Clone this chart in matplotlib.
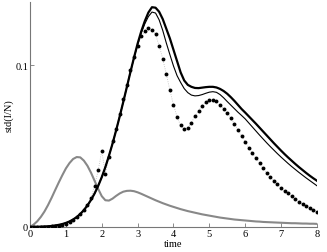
import numpy as np
import matplotlib
matplotlib.use("Agg")
import matplotlib.pyplot as plt

plt.rcParams['font.family'] = ['Liberation Serif', 'DejaVu Serif']

time = [round(0.1 * i, 1) for i in range(81)]

dots = [0, 0, 0, 0, 0.0001, 0.0002, 0.0003, 0.0005, 0.0008, 0.0012,
        0.002, 0.003, 0.0045, 0.006, 0.008, 0.0105, 0.0135, 0.018, 0.0255, 0.035,
        0.047, 0.033, 0.043, 0.053, 0.0605, 0.07, 0.079, 0.088, 0.097, 0.105,
        0.112, 0.118, 0.1208, 0.1228, 0.122, 0.119, 0.112, 0.104, 0.0945, 0.0845,
        0.0755, 0.068, 0.0627, 0.0605, 0.0612, 0.0645, 0.0685, 0.0718, 0.075, 0.0772,
        0.0783, 0.0785, 0.0776, 0.0752, 0.073, 0.0705, 0.0672, 0.0638, 0.06, 0.0563,
        0.0527, 0.049, 0.0455, 0.0426, 0.0396, 0.0365, 0.0336, 0.031, 0.0286, 0.0263,
        0.024, 0.0222, 0.0207, 0.0189, 0.0172, 0.0155, 0.0141, 0.0127, 0.0115, 0.0104,
        0.0094]

thick = [0, 0.0001, 0.0001, 0.0002, 0.0003, 0.0004, 0.0006, 0.0009, 0.0013, 0.0018,
         0.0025, 0.0034, 0.0046, 0.0061, 0.008, 0.0104, 0.0133, 0.0167, 0.0207, 0.0254,
         0.0308, 0.037, 0.044, 0.0515, 0.0597, 0.0683, 0.0773, 0.0865, 0.0958, 0.1048,
         0.1133, 0.1208, 0.1272, 0.1325, 0.1358, 0.1355, 0.133, 0.1285, 0.1225, 0.1165,
         0.1095, 0.1025, 0.0955, 0.0905, 0.0878, 0.0866, 0.0859, 0.0858, 0.0861, 0.0864,
         0.0866, 0.0866, 0.0862, 0.0853, 0.084, 0.0823, 0.0802, 0.0779, 0.0754, 0.0729,
         0.0707, 0.0684, 0.0661, 0.0638, 0.0614, 0.059, 0.0566, 0.0542, 0.0518, 0.0495,
         0.0472, 0.045, 0.0429, 0.0409, 0.0389, 0.037, 0.0352, 0.0334, 0.0317, 0.0301,
         0.0286]

thin = [0, 0.0001, 0.0001, 0.0002, 0.0003, 0.0004, 0.0006, 0.0009, 0.0013, 0.0018,
        0.0025, 0.0034, 0.0046, 0.0061, 0.008, 0.0104, 0.0133, 0.0167, 0.0207, 0.0254,
        0.0308, 0.037, 0.044, 0.0515, 0.0597, 0.0683, 0.0773, 0.0865, 0.0958, 0.1045,
        0.1128, 0.1198, 0.1255, 0.13, 0.1328, 0.1322, 0.128, 0.1215, 0.1137, 0.1065,
        0.0995, 0.0935, 0.0893, 0.0855, 0.083, 0.0815, 0.081, 0.0812, 0.0818, 0.0826,
        0.0833, 0.0836, 0.0832, 0.0818, 0.0798, 0.0775, 0.0753, 0.0731, 0.0709, 0.0689,
        0.0668, 0.0643, 0.0618, 0.0593, 0.0568, 0.0544, 0.052, 0.0497, 0.0475, 0.0453,
        0.0432, 0.0412, 0.0392, 0.0373, 0.0355, 0.0337, 0.032, 0.0303, 0.0287, 0.0271,
        0.0255]

gray = [0, 0.0015, 0.0035, 0.0062, 0.0095, 0.0135, 0.018, 0.0228, 0.0275, 0.032,
        0.0362, 0.0395, 0.042, 0.0432, 0.043, 0.041, 0.0378, 0.0335, 0.0285, 0.0235,
        0.019, 0.0165, 0.0163, 0.0175, 0.0192, 0.0207, 0.0218, 0.0223, 0.0224, 0.0221,
        0.0214, 0.0205, 0.0195, 0.0185, 0.0175, 0.0165, 0.0156, 0.0147, 0.0139, 0.0131,
        0.0124, 0.0117, 0.011, 0.0104, 0.0098, 0.0093, 0.0088, 0.0083, 0.0078, 0.0074,
        0.007, 0.0066, 0.0062, 0.0058, 0.0055, 0.0052, 0.0049, 0.0046, 0.0044, 0.0042,
        0.004, 0.0038, 0.0036, 0.0034, 0.0033, 0.0031, 0.003, 0.0029, 0.0028, 0.0027,
        0.0026, 0.0025, 0.0024, 0.0023, 0.0023, 0.0022, 0.0021, 0.0021, 0.002, 0.002,
        0.0019]

xticks = [0, 1, 2, 3, 4, 5, 6, 7, 8]
yticks = [0, 0.1]
yticklabels = ["0", "0.1"]

fig = plt.figure(figsize=(3.27, 2.53), dpi=100)
ax = fig.add_axes([0.092, 0.099, 0.877, 0.889])

ax.plot(time, gray, color='#888888', lw=1.5, zorder=2)
ax.plot(time, thin, color='black', lw=0.8, zorder=3)
ax.plot(time, thick, color='black', lw=1.6, zorder=4)
ax.plot(time, dots, color='#bbbbbb', lw=0.6, ls=':', zorder=1)
ax.plot(time, dots, ls='none', marker='o', ms=2.8, mfc='black', mec='black', mew=0, zorder=5)

ax.set_xlim(0, 8)
ax.set_ylim(0, 0.139)
ax.set_xticks(xticks)
ax.set_xticklabels([str(x) for x in xticks])
ax.set_yticks(yticks)
ax.set_yticklabels(yticklabels)
for s in ['top', 'right']:
    ax.spines[s].set_visible(False)
for s in ['left', 'bottom']:
    ax.spines[s].set_color('#777777')
    ax.spines[s].set_linewidth(0.8)
ax.tick_params(direction='in', length=3, width=0.6, color='#777777', labelsize=7.5, pad=1.5)
ax.set_xlabel('time', fontsize=7.5, labelpad=1)
ax.set_ylabel('std(I/N)', fontsize=7.5, labelpad=1)

fig.savefig('out.png', dpi=100)
